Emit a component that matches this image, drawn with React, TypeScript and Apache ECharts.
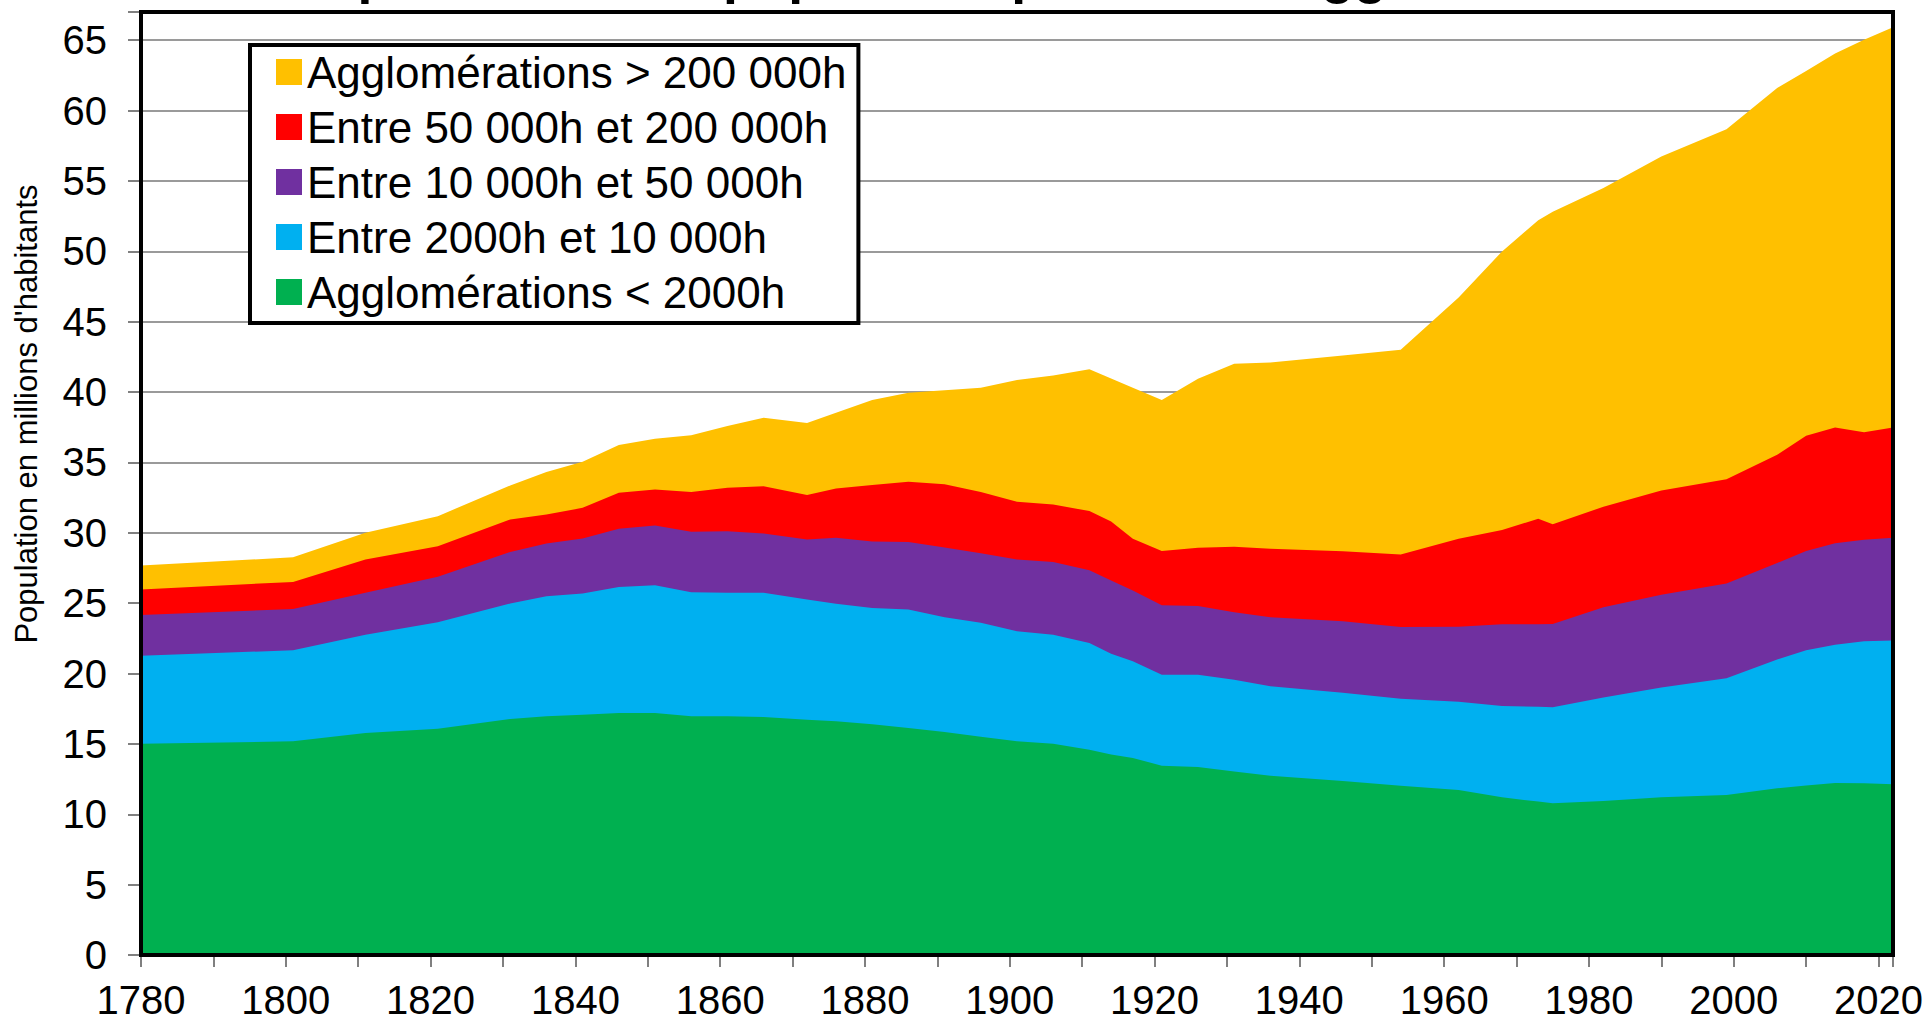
import React, { useEffect, useRef } from "react";
import * as echarts from "echarts";

const YEARS = [1780, 1801, 1811, 1821, 1831, 1836, 1841, 1846, 1851, 1856, 1861, 1866, 1872, 1876, 1881, 1886, 1891, 1896, 1901, 1906, 1911, 1914, 1917, 1921, 1926, 1931, 1936, 1946, 1954, 1962, 1968, 1973, 1975, 1982, 1990, 1999, 2006, 2010, 2014, 2018, 2022];

const LESS_2000 = [15.01, 15.18, 15.77, 16.08, 16.77, 16.96, 17.07, 17.19, 17.19, 16.96, 16.96, 16.91, 16.72, 16.6, 16.4, 16.13, 15.85, 15.5, 15.18, 15.01, 14.59, 14.25, 14.0, 13.45, 13.35, 13.04, 12.74, 12.36, 12.02, 11.72, 11.2, 10.9, 10.79, 10.94, 11.2, 11.37, 11.85, 12.05, 12.22, 12.2, 12.14];
const FROM_2000_TO_10000 = [6.26, 6.47, 6.99, 7.56, 8.2, 8.53, 8.61, 8.96, 9.08, 8.81, 8.77, 8.82, 8.53, 8.35, 8.26, 8.41, 8.15, 8.1, 7.82, 7.75, 7.58, 7.15, 6.87, 6.47, 6.57, 6.52, 6.35, 6.28, 6.18, 6.28, 6.49, 6.73, 6.82, 7.36, 7.8, 8.29, 9.15, 9.61, 9.83, 10.1, 10.21];
const FROM_10000_TO_50000 = [2.89, 2.94, 2.97, 3.23, 3.67, 3.75, 3.91, 4.13, 4.25, 4.3, 4.38, 4.22, 4.27, 4.69, 4.72, 4.81, 4.95, 4.95, 5.1, 5.17, 5.17, 5.2, 5.03, 4.93, 4.88, 4.79, 4.91, 5.07, 5.1, 5.32, 5.81, 5.87, 5.9, 6.4, 6.6, 6.74, 6.85, 7.05, 7.2, 7.2, 7.29];
const FROM_50000_TO_200000 = [1.8, 1.92, 2.37, 2.18, 2.3, 2.06, 2.18, 2.56, 2.56, 2.82, 3.09, 3.36, 3.16, 3.51, 4.02, 4.27, 4.5, 4.35, 4.1, 4.08, 4.2, 4.2, 3.67, 3.85, 4.13, 4.65, 4.86, 4.98, 5.15, 6.25, 6.7, 7.49, 7.09, 7.15, 7.4, 7.4, 7.69, 8.18, 8.22, 7.65, 7.83];
const MORE_200000 = [1.71, 1.75, 1.9, 2.13, 2.42, 3.01, 3.27, 3.39, 3.6, 4.03, 4.38, 4.86, 5.12, 5.38, 6.03, 6.33, 6.67, 7.41, 8.65, 9.17, 10.07, 10.16, 10.73, 10.73, 12.02, 13.01, 13.23, 13.9, 14.55, 17.15, 19.79, 21.21, 22.21, 22.65, 23.74, 24.87, 26.06, 25.91, 26.58, 27.88, 28.45];

const SERIES_NAMES = [
  "Agglomérations < 2000h",
  "Entre 2000h et 10 000h",
  "Entre 10 000h et 50 000h",
  "Entre 50 000h et 200 000h",
  "Agglomérations > 200 000h",
];
const SERIES_VALUES = [LESS_2000, FROM_2000_TO_10000, FROM_10000_TO_50000, FROM_50000_TO_200000, MORE_200000];
const SERIES_COLORS = ["#00B050", "#00B0F0", "#7030A0", "#FF0000", "#FFC000"];

const TITLE = "Répartition de la population par taille d'agglomération";
const Y_NAME = "Population en millions d'habitants";

const FONT = "'Liberation Sans', Arial, sans-serif";

export default function App() {
  const ref = useRef<HTMLDivElement>(null);

  useEffect(() => {
    if (!ref.current) return;
    const chart = echarts.init(ref.current, undefined, { renderer: "svg" });

    const L = 141, T = 12, R = 1893, B = 955;

    // stacked totals (each layer drawn from 0 up to its cumulative top, upper layers behind)
    const cumulative: number[][] = [];
    SERIES_VALUES.forEach((vals, k) => {
      cumulative.push(vals.map((v, i) => (k === 0 ? v : cumulative[k - 1][i] + v)));
    });

    const series = SERIES_NAMES.map((name, k) => ({
      name,
      type: "line",
      data: YEARS.map((yr, i) => [yr, +cumulative[k][i].toFixed(3)]),
      showSymbol: false,
      symbol: "none",
      lineStyle: { width: 0, color: SERIES_COLORS[k] },
      itemStyle: { color: SERIES_COLORS[k] },
      areaStyle: { color: SERIES_COLORS[k], opacity: 1, origin: "start" },
      emphasis: { disabled: true },
      z: 10 - k,
    }));

    chart.setOption({
      animation: false,
      backgroundColor: "#ffffff",
      grid: { left: L, top: T, right: 1930 - R, bottom: 1022 - B, containLabel: false },
      xAxis: {
        type: "value",
        min: 1780,
        max: 2022,
        interval: 10,
        axisLine: { show: true, lineStyle: { color: "#808080", width: 2 } },
        axisTick: { show: true, inside: false, length: 12, lineStyle: { color: "#808080", width: 2 } },
        splitLine: { show: false },
        axisLabel: {
          margin: 25,
          fontSize: 40,
          fontFamily: FONT,
          color: "#000",
          formatter: (v: number) => (v % 20 === 0 ? String(v) : ""),
        },
      },
      yAxis: {
        type: "value",
        min: 0,
        max: 67,
        interval: 5,
        axisLine: { show: true, lineStyle: { color: "#808080", width: 2 } },
        axisTick: { show: true, inside: false, length: 13, lineStyle: { color: "#808080", width: 2 } },
        splitLine: { show: true, lineStyle: { color: "#9a9a9a", width: 2 } },
        axisLabel: {
          margin: 34,
          fontSize: 40,
          fontFamily: FONT,
          color: "#000",
          formatter: (v: number) => (v % 5 === 0 ? String(v) : ""),
        },
      },
      legend: {
        show: true,
        orient: "vertical",
        left: 250,
        top: 45,
        data: [...SERIES_NAMES].reverse(),
        icon: "rect",
        itemWidth: 26,
        itemHeight: 26,
        itemGap: 11,
        padding: [5, 12, 9, 26],
        borderColor: "#000",
        borderWidth: 4,
        backgroundColor: "#ffffff",
        selectedMode: false,
        textStyle: { fontSize: 44, fontFamily: FONT, color: "#000" },
        z: 20,
      },
      graphic: [
        {
          type: "rect",
          shape: { x: L, y: T, width: R - L, height: B - T },
          style: { fill: "none", stroke: "#000", lineWidth: 4 },
          z: 50,
          silent: true,
        },
        {
          type: "text",
          x: 289,
          y: -26,
          style: {
            text: TITLE,
            font: `bold 53.5px ${FONT}`,
            fill: "#000",
            textAlign: "left",
            textVerticalAlign: "middle",
          },
          z: 60,
          silent: true,
        },
        {
          type: "text",
          x: 26,
          y: 414,
          rotation: Math.PI / 2,
          style: {
            text: Y_NAME,
            font: `31px ${FONT}`,
            fill: "#000",
            textAlign: "center",
            textVerticalAlign: "middle",
          },
          z: 60,
          silent: true,
        },
      ],
      series,
    });

    return () => chart.dispose();
  }, []);

  return (
    <div
      ref={ref}
      style={{ position: "fixed", left: 0, top: 0, width: 1930, height: 1022, background: "#fff" }}
    />
  );
}
